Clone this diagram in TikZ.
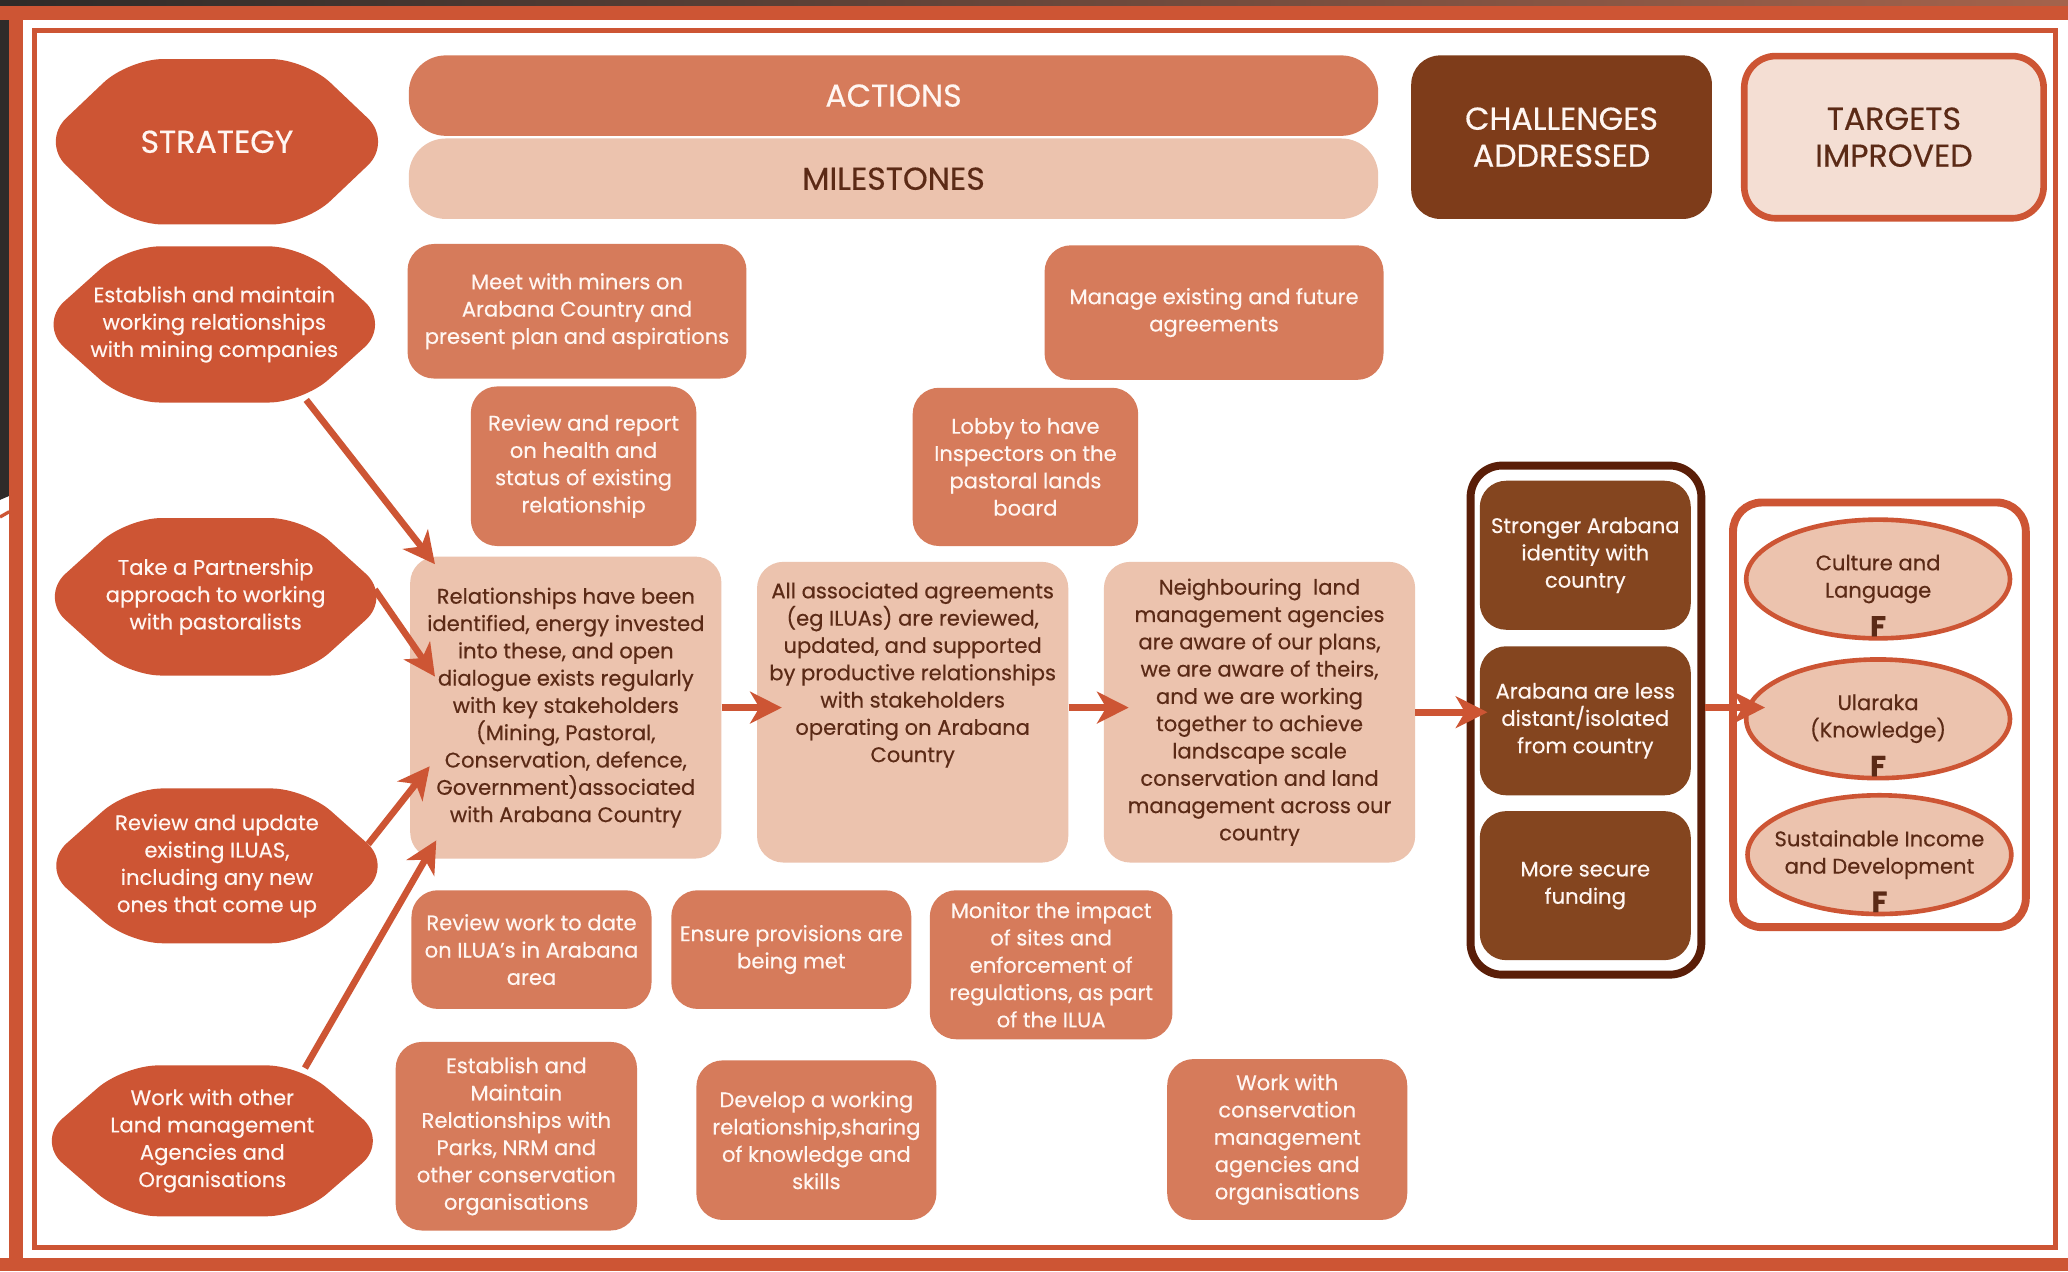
\documentclass[tikz,border=0pt]{standalone}
\usepackage{fontspec}
\setmainfont{Poppins}[FakeBold=0.4]
\usetikzlibrary{arrows.meta,shapes.geometric,backgrounds}

\definecolor{rust}{HTML}{CD5534}
\definecolor{salmon}{HTML}{D67B5B}
\definecolor{peach}{HTML}{ECC3AE}
\definecolor{blush}{HTML}{F4DED3}
\definecolor{bark}{HTML}{7E3C1A}
\definecolor{barkbox}{HTML}{84451F}
\definecolor{umber}{HTML}{5A1E08}
\definecolor{inkbrown}{HTML}{5B2A16}
\definecolor{paper}{HTML}{FFF6F2}
\definecolor{slate}{HTML}{2E2B29}
\definecolor{clay}{HTML}{A4634C}

\newcommand\boxfont{\fontsize{16}{20.7}\selectfont}
\newcommand\headfont{\fontsize{24}{28}\selectfont}

\begin{document}
\begin{tikzpicture}[x=1pt,y=-1pt,
  strat/.style={minimum width=266pt,minimum height=118pt,text=paper,align=center,font=\boxfont},
  hexfill/.style={fill=rust,rounded corners=26pt},
  act/.style={fill=salmon,rounded corners=20pt,text=paper,align=center,font=\boxfont,inner sep=2pt},
  ms/.style={fill=peach,rounded corners=20pt,text=inkbrown,align=center,font=\boxfont,minimum width=236pt,inner sep=2pt},
  chal/.style={fill=barkbox,rounded corners=20pt,text=paper,align=center,font=\boxfont,minimum width=160pt,minimum height=113pt},
  tgt/.style={ellipse,fill=peach,draw=rust,line width=3.5pt,minimum width=200pt,minimum height=90pt,text=inkbrown,align=center,font=\boxfont,inner xsep=-30pt,inner ysep=0pt},
  tgtf/.style={anchor=south,inner sep=0pt,yshift=3pt,text=inkbrown,font=\bfseries\fontsize{22}{22}\selectfont},
  flow/.style={draw=rust,line width=5pt,-{Stealth[length=24pt,width=24pt,inset=7pt]}},
  head/.style={font=\headfont,align=center}]
\useasboundingbox (0,0) rectangle (1568,964);

\begin{pgfonlayer}{background}
\fill[white] (0,0) rectangle (1568,964);
\end{pgfonlayer}

\shade[left color=slate,right color=clay] (0,0) rectangle (1568,4.5);
\fill[slate] (0,0) -- (7,0) -- (7,376) -- (0,379) -- cycle;
\fill[rust] (0,4.5) rectangle (1568,15);
\fill[rust] (7,4.5) rectangle (17.5,964);
\fill[rust] (0,954) rectangle (1568,964);
\draw[rust,line width=2.5pt] (0,392) -- (7,388);
\draw[rust,line width=3.5pt] (26,23) rectangle (1558.5,946);

\node[strat,minimum height=125pt,font=\headfont] (strat) at (164.5,107.5) {STRATEGY};
\node[fill=salmon,rounded corners=28pt,minimum width=735pt,minimum height=61pt,head,text=paper] (actions) at (677.5,72.5) {ACTIONS};
\node[fill=peach,rounded corners=28pt,minimum width=735pt,minimum height=61pt,head,text=inkbrown] (milestones) at (677.5,135.5) {MILESTONES};
\node[fill=bark,rounded corners=22pt,minimum width=228pt,minimum height=124pt,head,text=paper] (challenges) at (1184,104) {CHALLENGES\\ADDRESSED};
\node[fill=blush,draw=rust,line width=5pt,rounded corners=24pt,minimum width=227pt,minimum height=123pt,head,text=inkbrown] (targets) at (1436,104) {TARGETS\\IMPROVED};

\node[strat] (h1) at (162.5,246) {Establish and maintain\\working relationships\\with mining companies};
\node[strat,minimum height=119pt] (h2) at (163.5,452.5) {Take a Partnership\\approach to working\\with pastoralists};
\node[strat,minimum height=117pt] (h3) at (164.5,656.5) {Review and update\\existing ILUAS,\\including any new\\ones that come up};
\node[strat,minimum height=114pt] (h4) at (161,865) {Work with other\\Land management\\Agencies and\\Organisations};

\begin{pgfonlayer}{background}
\fill[hexfill] (strat.north) -- ([xshift=-66pt]strat.north east) -- (strat.east) -- ([xshift=-66pt]strat.south east) -- ([xshift=66pt]strat.south west) -- (strat.west) -- ([xshift=66pt]strat.north west) -- cycle;
\fill[hexfill] (h1.north) -- ([xshift=-66pt]h1.north east) -- (h1.east) -- ([xshift=-66pt]h1.south east) -- ([xshift=66pt]h1.south west) -- (h1.west) -- ([xshift=66pt]h1.north west) -- cycle;
\fill[hexfill] (h2.north) -- ([xshift=-66pt]h2.north east) -- (h2.east) -- ([xshift=-66pt]h2.south east) -- ([xshift=66pt]h2.south west) -- (h2.west) -- ([xshift=66pt]h2.north west) -- cycle;
\fill[hexfill] (h3.north) -- ([xshift=-66pt]h3.north east) -- (h3.east) -- ([xshift=-66pt]h3.south east) -- ([xshift=66pt]h3.south west) -- (h3.west) -- ([xshift=66pt]h3.north west) -- cycle;
\fill[hexfill] (h4.north) -- ([xshift=-66pt]h4.north east) -- (h4.east) -- ([xshift=-66pt]h4.south east) -- ([xshift=66pt]h4.south west) -- (h4.west) -- ([xshift=66pt]h4.north west) -- cycle;
\end{pgfonlayer}

\node[act,minimum width=257pt,minimum height=102pt] (meet) at (437.5,236) {Meet with miners on\\Arabana Country and\\present plan and aspirations};
\node[act,minimum width=257pt,minimum height=102pt] (manage) at (920.5,237) {Manage existing and future\\agreements};
\node[act,minimum width=171pt,minimum height=121pt] (report) at (442.5,353.5) {Review and report\\on health and\\status of existing\\relationship};
\node[act,minimum width=171pt,minimum height=120pt] (lobby) at (777.5,354) {Lobby to have\\Inspectors on the\\pastoral lands\\board};
\node[act,minimum width=182pt,minimum height=90pt] (ilua) at (403,720) {Review work to date\\on ILUA’s in Arabana\\area};
\node[act,minimum width=182pt,minimum height=90pt] (ensure) at (600,720) {Ensure provisions are\\being met};
\node[act,minimum width=184pt,minimum height=113pt] (monitor) at (797,731.5) {Monitor the impact\\of sites and\\enforcement of\\regulations, as part\\of the ILUA};
\node[act,minimum width=183pt,minimum height=143pt] (parks) at (391.5,861.5) {Establish and\\Maintain\\Relationships with\\Parks, NRM and\\other conservation\\organisations};
\node[act,minimum width=182pt,minimum height=121pt] (develop) at (619,864.5) {Develop a working\\relationship,sharing\\of knowledge and\\skills};
\node[act,minimum width=182pt,minimum height=122pt] (conserve) at (976,864) {Work with\\conservation\\management\\agencies and\\organisations};

\node[ms,minimum height=229pt] (m1) at (429,536.5) {Relationships have been\\identified, energy invested\\into these, and open\\dialogue exists regularly\\with key stakeholders\\(Mining, Pastoral,\\Conservation, defence,\\Government)associated\\with Arabana Country};
\node[ms,minimum height=228pt] (m2) at (692,540) {All associated agreements\\(eg ILUAs) are reviewed,\\updated, and supported\\by productive relationships\\with stakeholders\\operating on Arabana\\Country\\[40pt]\mbox{}};
\node[ms,minimum height=228pt] (m3) at (955,540) {Neighbouring\ \ land\\management agencies\\are aware of our plans,\\we are aware of theirs,\\and we are working\\together to achieve\\landscape scale\\conservation and land\\management across our\\country};

\node[draw=umber,line width=6pt,rounded corners=24pt,minimum width=175pt,minimum height=386pt] (cbox) at (1202.5,546) {};
\node[chal] (c1) at (1202,421) {Stronger Arabana\\identity with\\country};
\node[chal] (c2) at (1202,546.5) {Arabana are less\\distant/isolated\\from country};
\node[chal] (c3) at (1202,671.5) {More secure\\funding};

\node[draw=rust,line width=6pt,rounded corners=22pt,minimum width=222pt,minimum height=322pt] (tbox) at (1425,542) {};
\node[tgt,label={[tgtf]-90:F}] (t1) at (1424,439) {Culture and\\Language};
\node[tgt,label={[tgtf]-90:F}] (t2) at (1424,545) {Ularaka\\(Knowledge)};
\node[tgt,label={[tgtf]-90:F}] (t3) at (1425,648) {Sustainable Income\\and Development};

\draw[flow] ([xshift=-63.5pt,yshift=2pt]h1.south east) -- ([xshift=19pt,yshift=-6pt]m1.north west);
\draw[flow] ([xshift=-12.5pt,yshift=5.5pt]h2.east) -- ([xshift=19pt,yshift=23.5pt]m1.west);
\draw[flow] ([xshift=-18.5pt,yshift=16.5pt]h3.east) -- ([xshift=15pt,yshift=-44.5pt]m1.west);
\draw[flow] ([xshift=-63pt,yshift=-2pt]h4.north east) -- ([xshift=20pt,yshift=14pt]m1.south west);
\draw[flow] (m1.east) -- ([xshift=19pt]m2.west |- m1.east);
\draw[flow] (m2.east |- m1.east) -- ([xshift=19pt]m3.west |- m1.east);
\draw[flow] (m3.east) -- ([xshift=6pt]c2.west |- m3.east);
\draw[flow] (cbox.east |- m1.east) -- ([xshift=16pt]t2.west |- m1.east);
\end{tikzpicture}
\end{document}
